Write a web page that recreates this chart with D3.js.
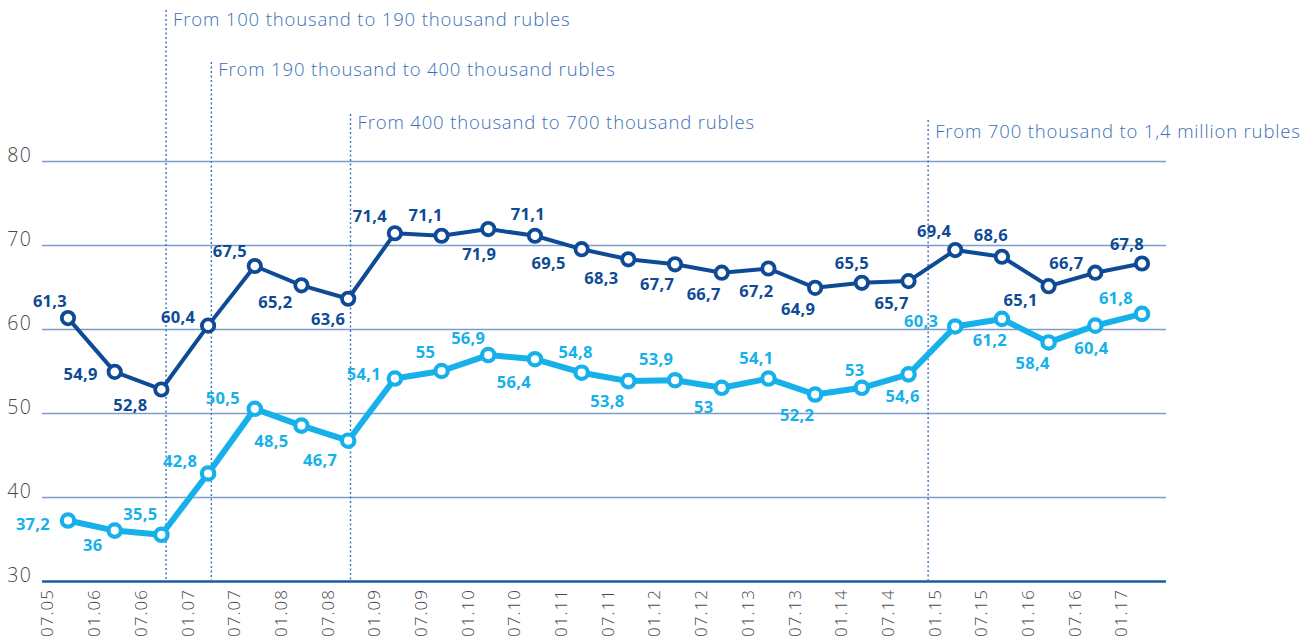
<!DOCTYPE html>
<html>
<head>
<meta charset="utf-8">
<script src="https://cdn.jsdelivr.net/npm/d3@7"></script>
<style>
  html, body { margin: 0; padding: 0; background: #ffffff; }
  svg { display: block; }
</style>
</head>
<body>
<svg id="chart" width="1306" height="637"></svg>
<script>
// ---- data ----
const categories = ["07.05","01.06","07.06","01.07","07.07","01.08","07.08","01.09","07.09","01.10","07.10","01.11","07.11","01.12","07.12","01.13","07.13","01.14","07.14","01.15","07.15","01.16","07.16","01.17"];
const darkValues  = [61.3,54.9,52.8,60.4,67.5,65.2,63.6,71.4,71.1,71.9,71.1,69.5,68.3,67.7,66.7,67.2,64.9,65.5,65.7,69.4,68.6,65.1,66.7,67.8];
const lightValues = [37.2,36,35.5,42.8,50.5,48.5,46.7,54.1,55,56.9,56.4,54.8,53.8,53.9,53,54.1,52.2,53,54.6,60.3,61.2,58.4,60.4,61.8];
const yTicks = [30,40,50,60,70,80];
// threshold annotations: label and position in category-index units
const thresholdLabels = ["From 100 thousand to 190 thousand rubles","From 190 thousand to 400 thousand rubles","From 400 thousand to 700 thousand rubles","From 700 thousand to 1,4 million rubles"];
const thresholdIndex = [2.1, 3.07, 6.05, 18.42];

// label placement offsets (px) relative to each point
const darkLabelOffset = [[-18,-18],[-34,2],[-31,15],[-30,-9],[-25,-16],[-26,16],[-20,20],[-25,-18],[-16,-21],[-9,24],[-7,-22],[-33,13],[-27,18],[-18,19],[-18,21],[-12,22],[-17,21],[-10,-20],[-17,21],[-21,-20],[-11,-22],[-28,13],[-29,-10],[-15,-20]];
const lightLabelOffset = [[-35,3],[-22,14],[-21,-21],[-28,-13],[-32,-11],[-30,15],[-28,19],[-31,-5],[-16,-20],[-20,-18],[-21,22],[-6,-21],[-21,19],[-19,-22],[-18,19],[-12,-21],[-18,20],[-7,-18],[-6,21],[-34,-6],[-12,21],[-16,20],[-4,22],[-26,-16]];

// ---- layout ----
const plotLeft = 42, plotRight = 1166, plotTop = 161, plotBottom = 581;
const colDark = "#0e4a95", colLight = "#16b0ea", gridCol = "#7d9dca", axisCol = "#1b5aa5", annCol = "#3a70b7";
const fontFam = "'Open Sans', 'Noto Sans', sans-serif";

const svg = d3.select("#chart");
const x = d3.scalePoint().domain(categories).range([68, 1142]).padding(0);
const step = x.step();
const y = d3.scaleLinear().domain([30, 80]).range([plotBottom, plotTop]);
const xIdx = i => x(categories[0]) + i * step;

// grid + y axis
const yAxis = svg.append("g")
  .attr("transform", `translate(${plotLeft},0)`)
  .call(d3.axisLeft(y).tickValues(yTicks).tickSize(-(plotRight - plotLeft)).tickPadding(10).tickFormat(d3.format("d")));
yAxis.select(".domain").remove();
yAxis.selectAll(".tick line")
  .attr("stroke", d => d === 30 ? axisCol : gridCol)
  .attr("stroke-width", d => d === 30 ? 2.5 : 1.6);
yAxis.selectAll(".tick text")
  .attr("fill", "#4a4a4a")
  .attr("font-family", fontFam)
  .attr("font-weight", 300)
  .attr("font-size", 19.5)
  .attr("letter-spacing", 1.2)
  .attr("dy", "0.05em");

// x axis labels
const xAxis = svg.append("g")
  .attr("transform", `translate(0,${plotBottom})`)
  .call(d3.axisBottom(x).tickSize(0));
xAxis.select(".domain").remove();
xAxis.selectAll(".tick text")
  .attr("font-family", fontFam)
  .attr("font-weight", 300)
  .attr("font-size", 17)
  .attr("letter-spacing", 1)
  .attr("fill", "#4a4a4a")
  .attr("text-anchor", "end")
  .attr("x", 0).attr("y", 0).attr("dy", "0.35em")
  .attr("transform", `translate(${-21},8) rotate(-90)`);

// threshold dashed lines + annotation text
const annTops = [10, 62, 114, 120];
const annBase = [26, 76, 129, 138];
thresholdLabels.forEach((t, i) => {
  const xx = xIdx(thresholdIndex[i]);
  svg.append("line")
    .attr("x1", xx).attr("x2", xx)
    .attr("y1", annTops[i]).attr("y2", plotBottom - 1)
    .attr("stroke", annCol).attr("stroke-width", 1.4)
    .attr("stroke-dasharray", "2,2.5");
  svg.append("text")
    .attr("x", xx + 7).attr("y", annBase[i])
    .attr("font-family", fontFam).attr("font-weight", 300)
    .attr("font-size", 18.5)
    .attr("letter-spacing", 0.85)
    .attr("fill", annCol)
    .text(t);
});

// series
function drawSeries(values, color, lw, sw, offsets) {
  const line = d3.line().x((d, i) => x(categories[i])).y(d => y(d));
  svg.append("path").datum(values)
    .attr("d", line).attr("fill", "none")
    .attr("stroke", color).attr("stroke-width", lw)
    .attr("stroke-linejoin", "round");
  svg.append("g").selectAll("circle").data(values).join("circle")
    .attr("cx", (d, i) => x(categories[i])).attr("cy", d => y(d))
    .attr("r", 6.2).attr("fill", "#fff")
    .attr("stroke", color).attr("stroke-width", sw);
  svg.append("g").selectAll("text").data(values).join("text")
    .attr("x", (d, i) => x(categories[i]) + offsets[i][0])
    .attr("y", (d, i) => y(d) + offsets[i][1])
    .attr("text-anchor", "middle").attr("dominant-baseline", "central")
    .attr("font-family", fontFam).attr("font-weight", 700)
    .attr("font-size", 16.5).attr("letter-spacing", 0.3).attr("fill", color)
    .text(d => String(d).replace(".", ","));
}
drawSeries(darkValues, colDark, 4, 3.8, darkLabelOffset);
drawSeries(lightValues, colLight, 6, 4.2, lightLabelOffset);
</script>
</body>
</html>
